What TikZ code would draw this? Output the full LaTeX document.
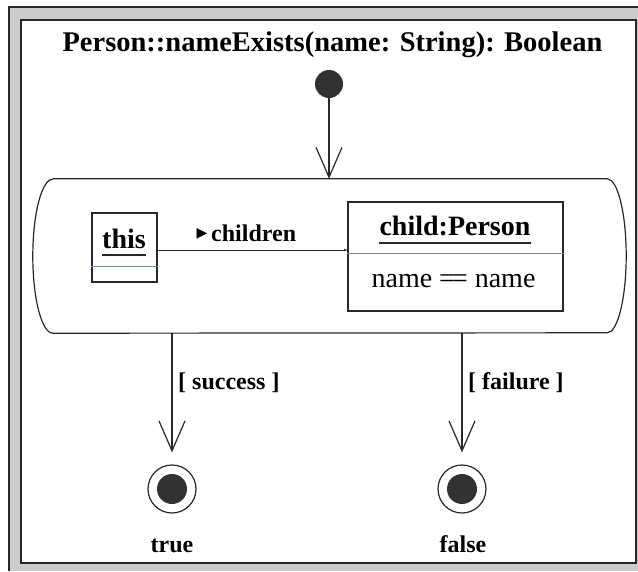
\documentclass[tikz,border=0pt]{standalone}
\usepackage{fontspec}
\setmainfont{Liberation Serif}
\newfontfamily\symfont{DejaVu Sans}
\usetikzlibrary{arrows.meta}

\definecolor{framegray}{RGB}{204,204,204}
\definecolor{inkdark}{RGB}{40,40,40}
\definecolor{dotfill}{RGB}{50,50,50}
\definecolor{sepblue}{RGB}{110,140,185}

\begin{document}
\begin{tikzpicture}[x=1pt,y=-1pt,
  edge/.style={line width=1.2pt, draw=inkdark},
  flow/.style={edge, -{Straight Barb[length=30pt,width=26pt,line width=1.2pt]}},
  objbox/.style={rectangle, draw=inkdark, line width=1.2pt, inner sep=0pt},
  sepline/.style={draw=sepblue, line width=1pt},
  uline/.style={draw=inkdark, line width=1.2pt},
  bigbold/.style={font=\bfseries\fontsize{28}{32}\selectfont, inner sep=0pt, anchor=base},
  plain/.style={font=\fontsize{28}{32}\selectfont, inner sep=0pt, anchor=base},
  lbl/.style={font=\bfseries\fontsize{24}{28}\selectfont, inner sep=0pt, anchor=base},
  startdot/.style={circle, fill=dotfill, minimum size=28pt, inner sep=0pt},
  enddot/.style={circle, draw=inkdark, line width=1.2pt, minimum size=48pt, inner sep=0pt},
]
\useasboundingbox (0,0) rectangle (638,571);

% window frame
\fill[framegray] (9,7) rectangle (638,571);
\draw[line width=1.5pt, draw=inkdark] (9,571) -- (9,7) -- (638,7);
\filldraw[fill=white, draw=inkdark, line width=2pt] (21,20) rectangle (636,563);

% operation name
\node[bigbold, font=\bfseries\fontsize{28.5}{32}\selectfont] (title) at (332.5,51)
  {Person::nameExists(name: String): Boolean};

% initial state
\node[startdot] (start) at (329,84) {};

% activity with the object pattern: straight top and bottom, elliptic ends
\node[minimum width=554pt, minimum height=154pt, inner sep=0pt] (act) at (330,256) {};
\draw[edge] (act.north west) -- (act.north east)
  arc[start angle=90, end angle=-90, x radius=19pt, y radius=77pt]
  -- (act.south west)
  arc[start angle=270, end angle=90, x radius=20pt, y radius=77pt];

% object "this"
\node[objbox, minimum width=65pt, minimum height=69pt] (thisbox) at (124.5,247.5) {};
\draw[sepline] (thisbox.west |- 0,266) -- (thisbox.east |- 0,266);
\node[bigbold] (thistxt) at (124,248) {this};
\draw[uline] ([yshift=-7pt]thistxt.base west) -- ([yshift=-7pt]thistxt.base east);

% object "child:Person"
\node[objbox, minimum width=215pt, minimum height=109pt] (childbox) at (455.5,256.5) {};
\draw[sepline] (childbox.west |- 0,253) -- (childbox.east |- 0,253);
\node[bigbold] (childtxt) at (455,235) {child:Person};
\draw[uline] ([yshift=-8pt]childtxt.base west) -- ([yshift=-8pt]childtxt.base east);
\node[plain] (cond) at (453.5,287) {name =\kern-3pt= name};

% link between the objects
\coordinate (linky) at (0,250);
\draw[line width=1pt, draw=inkdark, -{Latex[length=3pt,width=3pt]}]
  (thisbox.east |- linky) -- (childbox.west |- linky);
\node[lbl, anchor=base west] (linklbl) at (211,241) {children};
\node[font=\symfont\fontsize{14}{16}\selectfont, inner sep=0pt] (linkdir) at (202,234) {▶};

% final states
\node[enddot] (final1) at (172,489) {};
\fill[dotfill] (final1) circle (15pt);
\node[enddot] (final2) at (462,489) {};
\fill[dotfill] (final2) circle (15pt);
\node[lbl] (truelbl) at (172,552) {true};
\node[lbl] (falselbl) at (463,552) {false};

% transitions
\draw[flow] (start) -- (start |- act.north);
\draw[flow, shorten >=12pt] (final1 |- act.south) -- (final1);
\draw[flow, shorten >=12pt] (final2 |- act.south) -- (final2);
\node[lbl, anchor=base west] (guard1) at (178,389) {[ success ]};
\node[lbl, anchor=base west] (guard2) at (468,389) {[ failure ]};
\end{tikzpicture}
\end{document}
